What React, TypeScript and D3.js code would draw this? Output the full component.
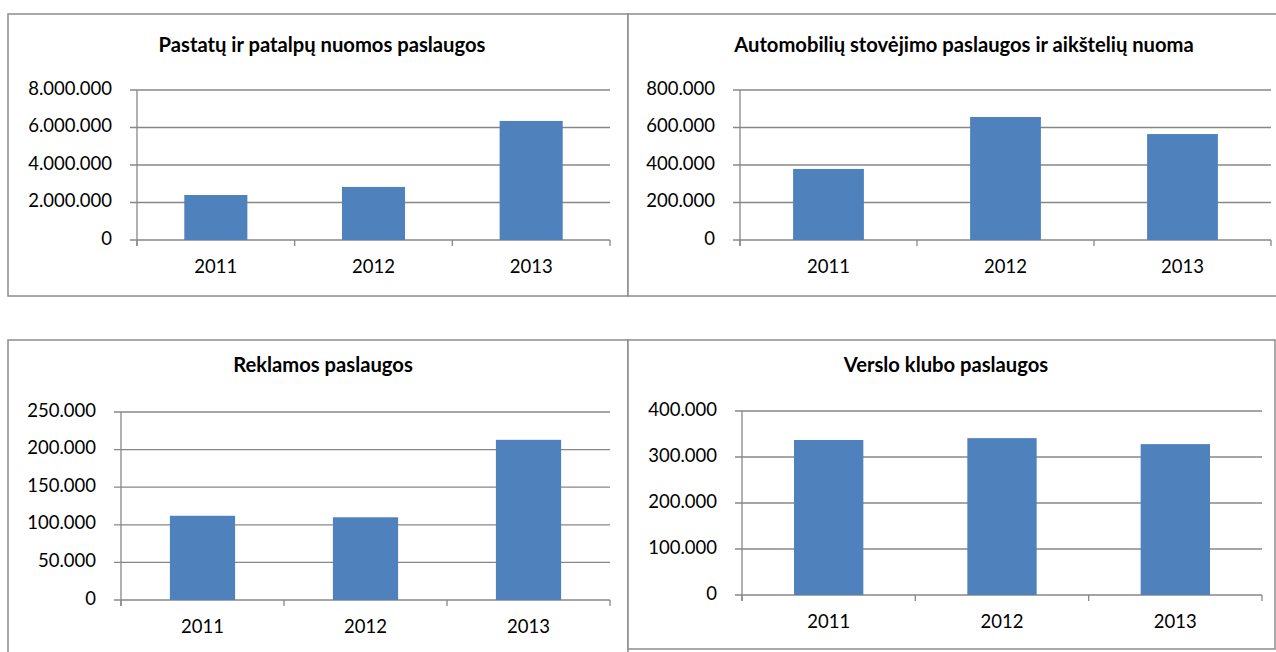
import React from "react";
import * as d3 from "d3";

const years = ["2011", "2012", "2013"];
const pastatuValues = [2400000, 2830000, 6350000];
const automobiliuValues = [379000, 656000, 565000];
const reklamosValues = [112000, 110000, 213000];
const versloValues = [337000, 341000, 328000];

const pastatuTicks = [0, 2000000, 4000000, 6000000, 8000000];
const automobiliuTicks = [0, 200000, 400000, 600000, 800000];
const reklamosTicks = [0, 50000, 100000, 150000, 200000, 250000];
const versloTicks = [0, 100000, 200000, 300000, 400000];

const titles = [
  "Pastatų ir patalpų nuomos paslaugos",
  "Automobilių stovėjimo paslaugos ir aikštelių nuoma",
  "Reklamos paslaugos",
  "Verslo klubo paslaugos",
];

const fmt = (v: number) => d3.format(",")(v).replace(/,/g, ".");

const FONT = "Lato, 'Open Sans', sans-serif";
const BAR = "#4F81BD";
const GRID = "#878787";
const BORDER = "#8c8c8c";

type Layout = {
  bx0: number; bx1: number; by0: number; by1: number;
  px0: number; px1: number; pyTop: number; pyBottom: number;
  tx: number; ty: number;
};

function Panel({ title, values, ticks, L }: { title: string; values: number[]; ticks: number[]; L: Layout }) {
  const x = d3.scaleBand<string>().domain(years).range([L.px0, L.px1]).paddingInner(0.6).paddingOuter(0.3);
  const y = d3.scaleLinear().domain([0, ticks[ticks.length - 1]]).range([L.pyBottom, L.pyTop]);
  const bounds = d3.scaleBand<string>().domain(years).range([L.px0, L.px1]);
  const catTicks = [...years.map((c) => bounds(c) as number), L.px1];
  return (
    <g>
      <rect x={L.bx0} y={L.by0} width={L.bx1 - L.bx0} height={L.by1 - L.by0} fill="white" stroke={BORDER} strokeWidth={1.5} />
      <text x={L.tx} y={L.ty} textAnchor="middle" dominantBaseline="middle" fontFamily={FONT} fontWeight="bold" fontSize={20.2} fill="#000">
        {title}
      </text>
      {ticks.map((t) => (
        <g key={t}>
          <line x1={L.px0 - 7} x2={L.px1} y1={y(t)} y2={y(t)} stroke={GRID} strokeWidth={1.3} />
          <text x={L.px0 - 25} y={y(t)} textAnchor="end" dominantBaseline="middle" fontFamily={FONT} fontSize={18.5} fill="#000">
            {fmt(t)}
          </text>
        </g>
      ))}
      <line x1={L.px0} x2={L.px0} y1={L.pyTop} y2={L.pyBottom + 6} stroke={GRID} strokeWidth={1.3} />
      {catTicks.map((cx, i) => (
        <line key={i} x1={cx} x2={cx} y1={L.pyBottom} y2={L.pyBottom + 6} stroke={GRID} strokeWidth={1.3} />
      ))}
      {years.map((c, i) => (
        <rect key={c} x={x(c)} y={y(values[i])} width={x.bandwidth()} height={L.pyBottom - y(values[i])} fill={BAR} />
      ))}
      {years.map((c) => (
        <text key={c} x={(bounds(c) as number) + bounds.bandwidth() / 2} y={L.pyBottom + 28} textAnchor="middle" dominantBaseline="middle" fontFamily={FONT} fontSize={18.5} fill="#000">
          {c}
        </text>
      ))}
    </g>
  );
}

const layouts: Layout[] = [
  { bx0: 8, bx1: 628, by0: 14, by1: 296, px0: 137, px1: 610, pyTop: 90, pyBottom: 240, tx: 322, ty: 47 },
  { bx0: 628, bx1: 1290, by0: 14, by1: 296, px0: 740, px1: 1271, pyTop: 90, pyBottom: 240, tx: 964, ty: 47 },
  { bx0: 8, bx1: 628, by0: 340, by1: 670, px0: 121, px1: 610, pyTop: 412, pyBottom: 600, tx: 323, ty: 367 },
  { bx0: 628, bx1: 1275, by0: 340, by1: 649, px0: 742, px1: 1262, pyTop: 411, pyBottom: 595, tx: 946, ty: 367 },
];

export default function App() {
  const vals = [pastatuValues, automobiliuValues, reklamosValues, versloValues];
  const tks = [pastatuTicks, automobiliuTicks, reklamosTicks, versloTicks];
  return (
    <svg width={1276} height={652} style={{ position: "absolute", left: 0, top: 0, background: "white" }}>
      {layouts.map((L, i) => (
        <Panel key={i} title={titles[i]} values={vals[i]} ticks={tks[i]} L={L} />
      ))}
    </svg>
  );
}
